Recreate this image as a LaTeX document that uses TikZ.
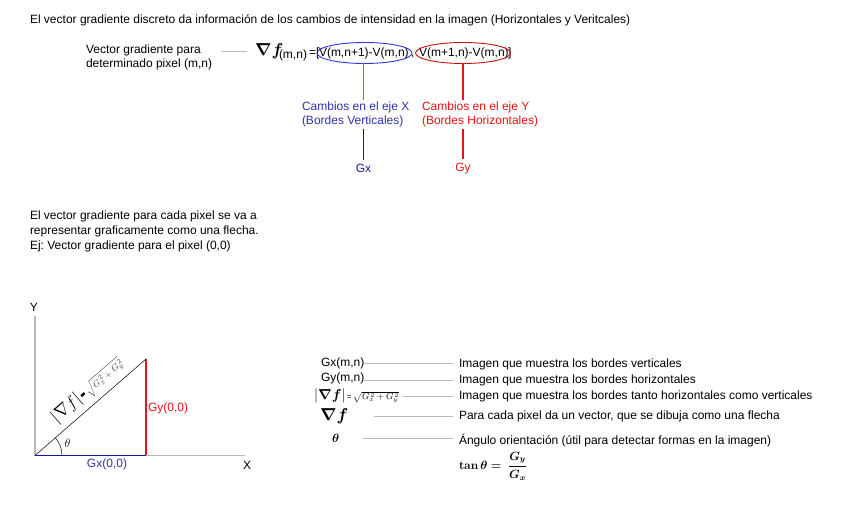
\documentclass[tikz,border=0pt]{standalone}
\usepackage{amsmath,bm}
\usepackage[no-math]{fontspec}
\setmainfont{Liberation Sans}
\usetikzlibrary{shapes.geometric}
\definecolor{cblue}{RGB}{50,50,175}
\definecolor{eblue}{RGB}{50,50,220}
\definecolor{lblue}{RGB}{110,110,225}
\definecolor{navy}{RGB}{25,25,150}
\definecolor{cred}{RGB}{230,20,20}
\definecolor{lgray}{RGB}{185,185,185}
\frenchspacing
\begin{document}
\begin{tikzpicture}[x=1pt,y=-1pt,
  every node/.style={inner sep=0pt, outer sep=0pt, font=\fontsize{12}{14}\selectfont},
  txt/.style={anchor=base west},
  gline/.style={draw=lgray, line width=0.8pt},
  bigm/.style={font=\fontsize{17}{17}\selectfont},
  ell/.style={ellipse, draw, line width=0.9pt, minimum width=96pt, minimum height=21pt}]
\useasboundingbox (0,0) rectangle (865,510);
\fill[white] (0,0) rectangle (865,510);

% title
\node[txt] (title) at (30,23.5) {El vector gradiente discreto da información de los cambios de intensidad en la imagen (Horizontales y Veritcales)};

% gradient definition
\node[anchor=west, align=left, font=\fontsize{12}{14}\selectfont] (vg) at (86,57) {Vector gradiente para\\determinado pixel (m,n)};
\node[anchor=west, bigm] (nab) at (255,51.5) {$\bm{\nabla f}$};
\node[txt] (mn) at (279,58.5) {(m,n)};
\node[txt] (eq) at (309,57) {=[};
\node[txt] (vx) at (319,57) {V(m,n+1)-V(m,n)};
\node[txt] (cm) at (411,57) {,};
\node[txt] (vy) at (419,57) {V(m+1,n)-V(m,n)};
\node[txt] (br) at (508,57) {]};
\draw[gline] ([xshift=10pt]vg.east |- nab.west) -- ([xshift=-8pt]nab.west);

\node[ell, draw=eblue, minimum width=95pt] (ex) at (364.5,53) {};
\node[ell, draw=cred!85!black, minimum width=95pt] (ey) at (463,53) {};

\node[anchor=west, align=left, text=cblue] (cx) at (302,114.5) {Cambios en el eje X\\(Bordes Verticales)};
\node[anchor=west, align=left, text=cred] (cy) at (422,114.5) {Cambios en el eje Y\\(Bordes Horizontales)};
\node[text=navy] (gx) at (363.5,168.5) {Gx};
\node[text=cred] (gy) at (463,168.5) {Gy};

\draw[draw=lblue, line width=1.4pt] (ex.south -| gx) -- ([yshift=2pt]gx |- cx.north);
\draw[draw=navy, line width=1.2pt] ([yshift=-2pt]gx |- cx.south) -- ([yshift=4pt]gx.north);
\draw[draw=cred, line width=1.2pt] (ey.south) -- ([yshift=2pt]ey.south |- cy.north);
\draw[draw=cred, line width=1.2pt] ([yshift=-2pt]gy |- cy.south) -- ([yshift=4pt]gy.north);

% paragraph
\node[anchor=west, align=left, font=\fontsize{12}{15}\selectfont] (par) at (30,231) {El vector gradiente para cada pixel se va a\\representar graficamente como una flecha.\\Ej: Vector gradiente para el pixel (0,0)};

% triangle
\coordinate (O) at (35,455.5);
\coordinate (Ytop) at (35,316);
\coordinate (Xend) at (245,455.5);
\coordinate (Pb) at (146,455.5);
\coordinate (Pt) at (146,359);
\node (ylab) at (34,307) {Y};
\node (xlab) at (247,465) {X};
\draw[draw=lgray, line width=1.2pt] (Ytop) -- (O) -- (Xend);
\draw[draw=navy!80!blue, line width=1.2pt] (O) -- (Pb);
\draw[draw=cred, line width=1.2pt] (Pb) -- (Pt);
\draw[line width=0.5pt] (O) -- (Pt) node[pos=0.56, sloped, above=5pt, anchor=south] (mag) {{\fontsize{17}{17}\selectfont$|\nabla f|$}\,\rule[3pt]{4.5pt}{2.5pt}\,{\fontsize{9.5}{10}\selectfont\color{black!75}$\sqrt{G_x^{\,2}+G_y^{\,2}}$}};
\draw[line width=0.5pt] ([shift={(0:27)}]O) arc[start angle=0, end angle=-41, radius=27];
\node (th) at (67.5,443) {$\theta$};
\node[text=cred, anchor=west] (gy0) at (148,408.5) {Gy(0,0)};
\node[text=cblue] (gx0) at (107,464.5) {Gx(0,0)};

% legend
\node[anchor=west] (l1) at (321,363) {Gx(m,n)};
\node[anchor=west] (l2) at (321,378) {Gy(m,n)};
\node[anchor=west] (l3) at (314,396) {{\fontsize{15}{15}\selectfont$|\bm{\nabla f}|$}{\fontsize{8}{8}\selectfont\,=\,}{\fontsize{9}{9}\selectfont$\sqrt{G_x^{\,2}+G_y^{\,2}}$}};
\node[anchor=west, bigm] (l4) at (320,416) {$\bm{\nabla f}$};
\node[anchor=west] (l5) at (332,438) {$\bm{\theta}$};

\node[anchor=west] (r1) at (459,364) {Imagen que muestra los bordes verticales};
\node[anchor=west] (r2) at (459,380) {Imagen que muestra los bordes horizontales};
\node[anchor=west] (r3) at (459,396) {Imagen que muestra los bordes tanto horizontales como verticales};
\node[anchor=west] (r4) at (459,416) {Para cada pixel da un vector, que se dibuja como una flecha};
\node[anchor=west] (r5) at (459,441) {Ángulo orientación (útil para detectar formas en la imagen)};
\node[anchor=west] (r6) at (459,466) {$\bm{\tan\theta =\ \dfrac{G_y}{G_x}}$};

\draw[gline] (l1.east) -- ([xshift=-6pt]r1.west |- l1.east);
\draw[gline] ([yshift=-2pt]l2.east) -- ([xshift=-6pt]r2.west);
\draw[gline] ([xshift=4pt]l3.east) -- ([xshift=-6pt]r3.west);
\draw[gline] ([xshift=26pt]l4.east) -- ([xshift=-6pt]r4.west);
\draw[gline] ([xshift=24pt]l5.east) -- ([xshift=-6pt]r5.west |- l5.east);
\end{tikzpicture}
\end{document}
